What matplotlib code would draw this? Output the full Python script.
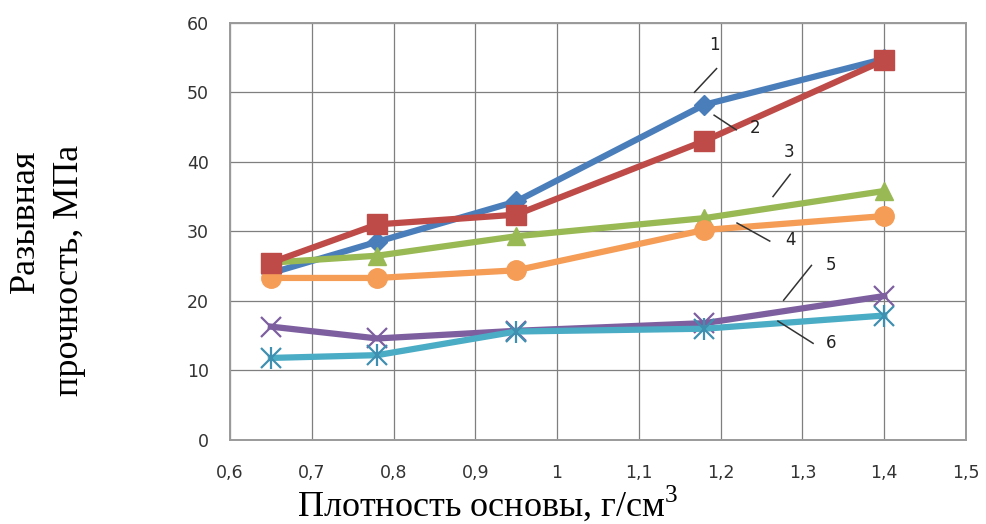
import numpy as np
import matplotlib
matplotlib.use("Agg")
import matplotlib.pyplot as plt

plt.rcParams["mathtext.fontset"] = "custom"
plt.rcParams["mathtext.rm"] = "Liberation Serif"

# данные
density = [0.65, 0.78, 0.95, 1.18, 1.4]
s1 = [24.0, 28.5, 34.3, 48.2, 54.8]
s2 = [25.5, 31.0, 32.4, 43.0, 54.6]
s3 = [25.5, 26.5, 29.3, 31.9, 35.8]
s4 = [23.3, 23.3, 24.4, 30.2, 32.2]
s5 = [16.3, 14.6, 15.7, 16.8, 20.7]
s6 = [11.8, 12.2, 15.6, 16.0, 17.9]

x_ticks = [0.6, 0.7, 0.8, 0.9, 1.0, 1.1, 1.2, 1.3, 1.4, 1.5]
x_tick_labels = ["0,6", "0,7", "0,8", "0,9", "1", "1,1", "1,2", "1,3", "1,4", "1,5"]
y_ticks = [0, 10, 20, 30, 40, 50, 60]

# подписи кривых: номер, позиция текста, выноска
labels = ["1", "2", "3", "4", "5", "6"]
label_text_pos = [(1.192, 56.8), (1.242, 44.8), (1.284, 41.4),
                  (1.286, 28.7), (1.335, 25.1), (1.335, 14.0)]
label_line = [((1.195, 53.4), (1.168, 50.0)),
              ((1.192, 46.7), (1.219, 44.6)),
              ((1.285, 38.2), (1.264, 35.0)),
              ((1.220, 31.2), (1.260, 28.6)),
              ((1.311, 25.1), (1.277, 20.1)),
              ((1.270, 17.1), (1.313, 13.9))]

fig = plt.figure(figsize=(9.86, 5.24), dpi=100)
ax = fig.add_axes([230 / 986, 84 / 524, 736 / 986, 417.3 / 524])

lw = 4.5
ax.plot(density, s1, color="#4a7ebb", lw=lw, marker="D", ms=10, zorder=3)
ax.plot(density, s2, color="#be4b48", lw=lw, marker="s", ms=14, zorder=4)
ax.plot(density, s3, color="#98b954", lw=lw, marker="^", ms=13, zorder=3)
ax.plot(density, s4, color="#f59d56", lw=lw, marker="o", ms=14, zorder=3)
ax.plot(density, s5, color="#7d5fa0", lw=lw, marker="x", ms=14, mew=1.6,
        mec="#7d5fa0", zorder=3)
ax.plot(density, s6, color="#4aacc5", lw=lw, marker="x", ms=14, mew=1.6,
        mec="#3f8fb0", zorder=3)
ax.plot(density, s6, lw=0, marker="|", ms=16, mew=1.6, mec="#3f8fb0", zorder=3)

for lab, (tx, ty), (p0, p1) in zip(labels, label_text_pos, label_line):
    ax.plot([p0[0], p1[0]], [p0[1], p1[1]], color="#333333", lw=1.1, zorder=5)
    ax.text(tx, ty, lab, ha="center", va="center", fontsize=12,
            family="DejaVu Sans", color="#222222", zorder=6)

ax.set_xlim(0.6, 1.5)
ax.set_ylim(0, 60)
ax.set_xticks(x_ticks)
ax.set_xticklabels(x_tick_labels)
ax.set_yticks(y_ticks)
ax.grid(True, color="#7f7f7f", lw=0.9)
ax.set_axisbelow(True)
for sp in ax.spines.values():
    sp.set_color("#9a9a9a")
    sp.set_linewidth(1.4)
ax.tick_params(length=0, labelsize=12.5, colors="#333333")
ax.tick_params(axis="y", pad=15)
ax.tick_params(axis="x", pad=17)
for t in ax.get_xticklabels() + ax.get_yticklabels():
    t.set_family("DejaVu Sans")

serif = ["Liberation Serif", "DejaVu Serif"]
fig.text(25 / 986, 1 - 221 / 524, "Разывная", rotation=90, ha="center",
         va="center", fontsize=26, family=serif)
fig.text(70 / 986, 1 - 270 / 524, "прочность, МПа", rotation=90, ha="center",
         va="center", fontsize=26, family=serif)
fig.text(488 / 986, 1 - 516 / 524, "Плотность основы, г/см$^3$", ha="center",
         va="baseline", fontsize=26, family=serif)

fig.savefig("out.png", dpi=100)
